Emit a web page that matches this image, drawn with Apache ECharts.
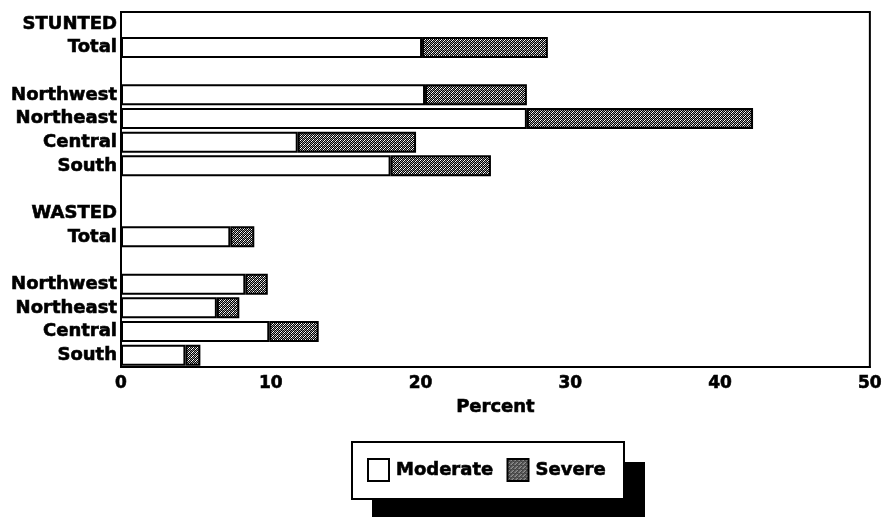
<!DOCTYPE html>
<html>
<head>
<meta charset="utf-8">
<script src="https://cdn.jsdelivr.net/npm/echarts@6/dist/echarts.min.js"></script>
<style>
html,body{margin:0;padding:0;background:#fff;}
#chart{width:885px;height:517px;}
</style>
</head>
<body>
<div id="chart"></div>
<script>
const categories = ['STUNTED','Total','','Northwest','Northeast','Central','South','','WASTED','Total','','Northwest','Northeast','Central','South'];
const moderate = ['-', 20.1, '-', 20.3, 27.1, 11.8, 18.0, '-', '-', 7.3, '-', 8.3, 6.4, 9.9, 4.3];
const severe   = ['-', 8.4, '-', 6.8, 15.1, 7.9, 6.7, '-', '-', 1.6, '-', 1.5, 1.5, 3.3, 1.0];
const xTicks = [0, 10, 20, 30, 40, 50];

const FONT = 'DejaVu Sans';
const heavy = {fontFamily: FONT, fontWeight: 'bold', color: '#000', textBorderColor: '#000', textBorderWidth: 0.6};

// dithered pattern for "Severe"
const tile = document.createElement('canvas');
tile.width = 4; tile.height = 4;
const tc = tile.getContext('2d');
tc.fillStyle = '#000'; tc.fillRect(0,0,4,4);
[[0,0],[2,0],[1,1],[3,1],[0,2],[2,2],[1,3],[3,3]].forEach(function(p, i){
  tc.fillStyle = (i % 3 === 0) ? '#ffffff' : '#9a9a9a';
  tc.fillRect(p[0], p[1], 1, 1);
});

const chart = echarts.init(document.getElementById('chart'), null, {renderer:'canvas'});
chart.setOption({
  animation: false,
  backgroundColor: '#fff',
  grid: {left: 121, right: 13, top: 12, bottom: 150, show: true, borderColor: '#000', borderWidth: 2, containLabel: false},
  graphic: [{
    type: 'rect', z: 1, silent: true,
    shape: {x: 372, y: 462, width: 273, height: 60},
    style: {fill: '#000'}
  }],
  legend: {
    z: 5,
    left: 352, top: 442,
    padding: [16, 18, 17, 15],
    icon: 'rect',
    itemWidth: 21, itemHeight: 22, itemGap: 13,
    backgroundColor: '#fff',
    borderColor: '#000', borderWidth: 2, borderRadius: 0,
    textStyle: Object.assign({fontSize: 18, padding: [0,0,0,2]}, heavy),
    data: ['Moderate', 'Severe']
  },
  xAxis: {
    type: 'value', min: xTicks[0], max: xTicks[xTicks.length-1], interval: 10,
    name: 'Percent', nameLocation: 'middle', nameGap: 31,
    nameTextStyle: Object.assign({fontSize: 18}, heavy),
    axisLine: {show: true, lineStyle: {color: '#000', width: 2}},
    axisTick: {show: false},
    splitLine: {show: false},
    axisLabel: Object.assign({fontSize: 17, margin: 8}, heavy)
  },
  yAxis: {
    type: 'category', data: categories, inverse: true,
    axisLine: {show: true, lineStyle: {color: '#000', width: 2}},
    axisTick: {show: false},
    splitLine: {show: false},
    axisLabel: Object.assign({fontSize: 18, margin: 4, interval: 0}, heavy)
  },
  series: [
    {
      name: 'Moderate', type: 'bar', stack: 'a', data: moderate, barWidth: 21,
      itemStyle: {color: '#fff', borderColor: '#000', borderWidth: 2}
    },
    {
      name: 'Severe', type: 'bar', stack: 'a', data: severe, barWidth: 21,
      itemStyle: {color: {image: tile, repeat: 'repeat'}, borderColor: '#000', borderWidth: 2}
    }
  ]
});
</script>
</body>
</html>
